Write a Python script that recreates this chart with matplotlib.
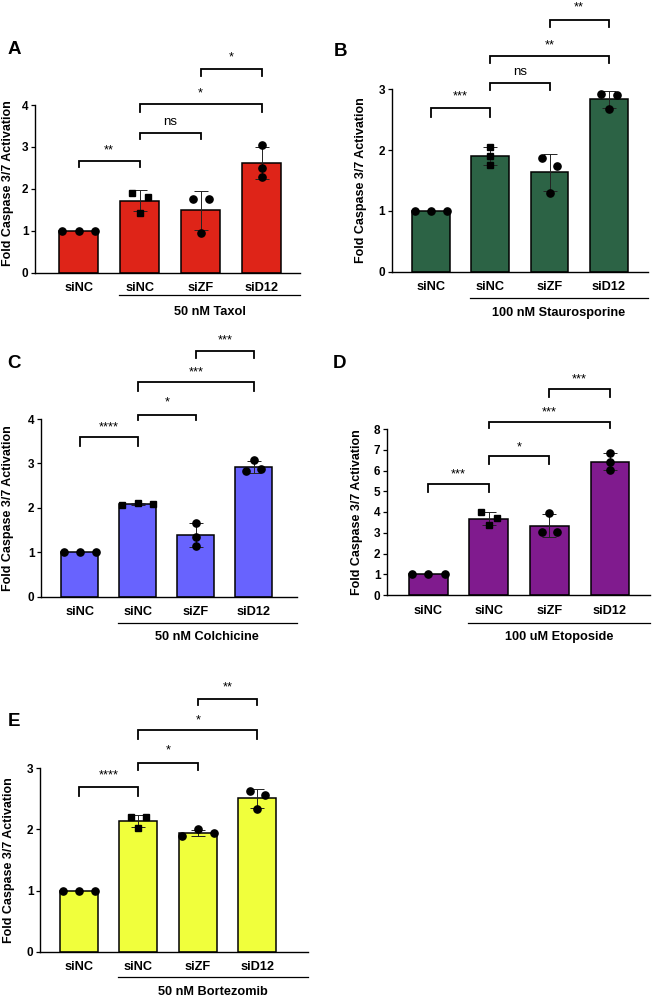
import matplotlib
matplotlib.use("Agg")
import matplotlib.pyplot as plt
import numpy as np
from matplotlib.transforms import blended_transform_factory, ScaledTranslation

plt.rcParams['font.family'] = ['Liberation Sans', 'DejaVu Sans']

# ---------------- data ----------------
groups = ["siNC", "siNC", "siZF", "siD12"]

taxol_reps = [[1.0, 1.0, 1.0], [1.90, 1.81, 1.43], [1.76, 1.76, 0.95], [3.04, 2.50, 2.29]]
stauro_reps = [[1.0, 1.0, 1.0], [2.05, 1.90, 1.76], [1.87, 1.74, 1.29], [2.92, 2.90, 2.68]]
colch_reps = [[1.0, 1.0, 1.0], [2.06, 2.10, 2.08], [1.67, 1.35, 1.15], [2.83, 3.07, 2.87]]
etopo_reps = [[1.0, 1.0, 1.0], [3.98, 3.73, 3.35], [3.97, 3.02, 3.02], [6.82, 6.42, 6.02]]
bortez_reps = [[1.0, 1.0, 1.0], [2.20, 2.20, 2.03], [1.89, 2.00, 1.94], [2.63, 2.56, 2.33]]

treatments = ["50 nM Taxol", "100 nM Staurosporine", "50 nM Colchicine",
              "100 uM Etoposide", "50 nM Bortezomib"]
panel_letters = ["A", "B", "C", "D", "E"]
colors = ["#DE2418", "#2C6345", "#6863FE", "#801B8E", "#F0FF3C"]
y_max = [4, 3, 4, 8, 3]
y_ticks = [[0, 1, 2, 3, 4], [0, 1, 2, 3], [0, 1, 2, 3, 4], list(range(0, 9)), [0, 1, 2, 3]]

# significance: (bar_i, bar_j, label)
sig_pairs = [(0, 1), (1, 2), (1, 3), (2, 3)]
sig_labels = [["**", "ns", "*", "*"],
              ["***", "ns", "**", "**"],
              ["****", "*", "***", "***"],
              ["***", "*", "***", "***"],
              ["****", "*", "*", "**"]]

# ---------------- layout (pixels) ----------------
# per panel: (left, right, top, bottom) of axes frame in figure px, xlim
frames = [(35, 300, 105, 272.7, (-0.716, 3.63)),
          (391.7, 648, 89.3, 271.5, (-0.66, 3.66)),
          (41, 296.7, 419, 596.7, (-0.67, 3.74)),
          (387, 650, 429, 595, (-0.68, 3.66)),
          (40, 308, 768.3, 951.7, (-0.65, 3.85))]
# bracket geometry in data units: (line_y, leg_bottom_y, text_center_y)
brackets = [[(2.67, 2.53, 3.03), (3.34, 3.18, 3.60), (4.02, 3.84, 4.38), (4.86, 4.69, 5.24)],
            [(2.70, 2.55, 2.95), (3.11, 2.99, 3.29), (3.55, 3.43, 3.80), (4.14, 4.02, 4.42)],
            [(3.59, 3.39, 3.92), (4.10, 3.97, 4.48), (4.83, 4.64, 5.15), (5.53, 5.38, 5.87)],
            [(5.35, 4.98, 6.02), (6.70, 6.31, 7.34), (8.34, 8.03, 9.03), (9.91, 9.56, 10.6)],
            [(2.70, 2.55, 2.95), (3.09, 2.97, 3.37), (3.62, 3.48, 3.86), (4.14, 4.03, 4.40)]]
# horizontal jitter of replicate points (units of bar spacing)
w, n = 0.27, 0.13
jitters = [[[-w, 0, w], [-n, n, 0], [-n, n, 0], [0, 0, 0]],
           [[-w, 0, w], [0, 0, 0], [-n, n, 0], [-n, n, 0]],
           [[-w, 0, w], [-w, 0, w], [0, 0, 0], [-n, 0, n]],
           [[-w, 0, w], [-n, n, 0], [0, -n, n], [0, 0, 0]],
           [[-w, 0, w], [-n, n, 0], [-w, 0, w], [-n, n, 0]]]
group_line_off = [22.3, 26, 26, 27.7, 25]
group_text_off = [39, 41.8, 40.5, 42.3, 40.3]
ylabel_center_px = [(8, 183), (361, 180), (8, 508), (357, 512), (9, 860)]
label_letter_pos = [(14, 50), (340, 52), (14, 363), (339, 363), (14, 722)]

all_reps = [taxol_reps, stauro_reps, colch_reps, etopo_reps, bortez_reps]

W, H = 653, 999
dpi = 100
fig = plt.figure(figsize=(W / dpi, H / dpi), dpi=dpi)

for p in range(5):
    l, r, t, b, xlim = frames[p]
    ax = fig.add_axes([l / W, 1 - b / H, (r - l) / W, (b - t) / H])
    reps = all_reps[p]
    x = np.arange(len(groups))
    means = [np.mean(v) for v in reps]
    sds = [np.std(v, ddof=1) for v in reps]
    ax.bar(x, means, width=0.64, color=colors[p], edgecolor="black", linewidth=1.1, zorder=1)
    for i in range(len(groups)):
        if sds[i] > 0.001:
            ax.errorbar(x[i], means[i], yerr=sds[i], fmt="none", ecolor="#222222",
                        elinewidth=0.7, capsize=5, capthick=0.7, zorder=2)
        marker = "s" if i == 1 else "o"
        ms = 4.8 if marker == "s" else 5.2
        ax.plot(x[i] + np.array(jitters[p][i]), reps[i], linestyle="none", marker=marker,
                markersize=ms, color="black", zorder=3, clip_on=False)
    ax.set_xlim(*xlim)
    ax.set_ylim(0, y_max[p])
    ax.set_yticks(y_ticks[p])
    ax.set_yticklabels([str(v) for v in y_ticks[p]], fontsize=8.5, fontweight="bold")
    ax.set_xticks(x)
    ax.set_xticklabels(groups, fontsize=9.2, fontweight="bold")
    ax.tick_params(axis="x", length=0, pad=7)
    ax.tick_params(axis="y", length=3.2, width=0.9, pad=1.5)
    for s in ["top", "right"]:
        ax.spines[s].set_visible(False)
    for s in ["left", "bottom"]:
        ax.spines[s].set_linewidth(1.0)

    # y label placed at its measured centre
    cx, cy = ylabel_center_px[p]
    fig.text(cx / W, 1 - cy / H, "Fold Caspase 3/7 Activation", fontsize=9.0,
             fontweight="bold", rotation=90, ha="center", va="center")

    # significance brackets
    for k, (i, j) in enumerate(sig_pairs):
        ly, lb, ty = brackets[p][k]
        ax.plot([x[i], x[i], x[j], x[j]], [lb, ly, ly, lb], color="black", lw=1.3,
                clip_on=False, solid_joinstyle="miter", zorder=4)
        lab = sig_labels[p][k]
        if lab == "ns":
            ax.annotate(lab, xy=((x[i] + x[j]) / 2, ty), xytext=(0, -2.5),
                        textcoords="offset points", ha="center", va="baseline",
                        fontsize=9.5, annotation_clip=False)
        else:
            ax.annotate(lab, xy=((x[i] + x[j]) / 2, ty), xytext=(0, -5.4),
                        textcoords="offset points", ha="center", va="baseline",
                        fontsize=9.3, annotation_clip=False)

    # treatment group line and label
    trans = blended_transform_factory(ax.transData, ax.transAxes)
    off_line = trans + ScaledTranslation(0, -group_line_off[p] / dpi, fig.dpi_scale_trans)
    off_text = trans + ScaledTranslation(0, -group_text_off[p] / dpi, fig.dpi_scale_trans)
    x0 = 0.66
    x1 = xlim[1]
    ax.plot([x0, x1], [0, 0], color="black", lw=0.9, transform=off_line, clip_on=False)
    ax.text((x0 + x1) / 2, 0, treatments[p], transform=off_text, ha="center", va="center",
            fontsize=9.2, fontweight="bold")

    lx, ly_ = label_letter_pos[p]
    fig.text(lx / W, 1 - ly_ / H, panel_letters[p], fontsize=13.5, fontweight="bold",
             ha="center", va="center")

fig.savefig("out.png", dpi=dpi)
